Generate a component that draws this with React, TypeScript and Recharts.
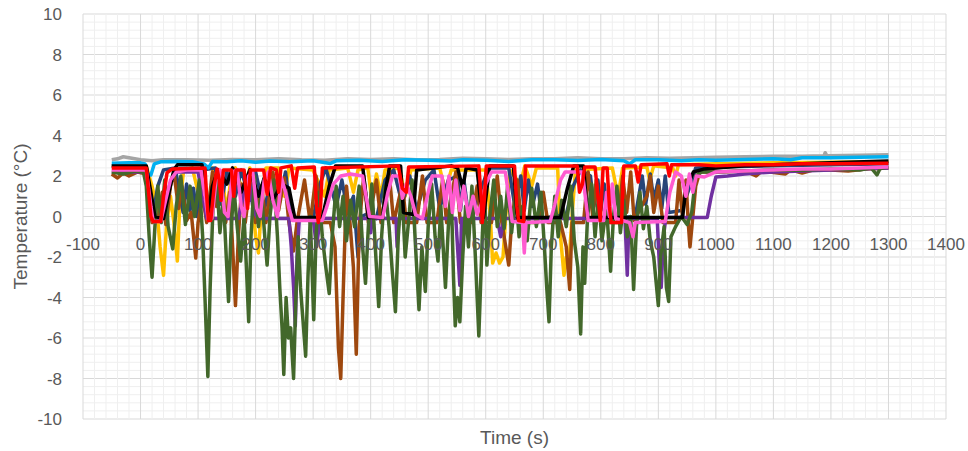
import { LineChart, Line, XAxis, YAxis, CartesianGrid, ReferenceDot } from "recharts";

type Pt = [number, number];

const X_DOMAIN: [number, number] = [-100, 1400];
const xTicks = [-100, 0, 100, 200, 300, 400, 500, 600, 700, 800, 900, 1000, 1100, 1200, 1300, 1400];
const xMinorTicks = Array.from({ length: 76 }, (_, i) => -100 + i * 20);
const yMinorTicks = Array.from({ length: 51 }, (_, i) => Math.round((-10 + i * 0.4) * 10) / 10);

const grayPts: Pt[] = [
  [-50, 2.8], [-40, 2.85], [-30, 2.95], [-20, 2.9], [-10, 2.85], [0, 2.8], [20, 2.75], [40, 2.8], [80, 2.8],
  [120, 2.78], [160, 2.82], [200, 2.8], [240, 2.85], [280, 2.8], [320, 2.78], [360, 2.85], [400, 2.82],
  [440, 2.85], [480, 2.8], [520, 2.82], [560, 2.88], [600, 2.85], [640, 2.82], [680, 2.85], [720, 2.85],
  [760, 2.9], [800, 2.85], [840, 2.85], [880, 2.9], [920, 2.88], [960, 2.9], [1000, 2.92], [1050, 2.95],
  [1100, 2.97], [1150, 2.98], [1188, 3.0], [1190, 3.15], [1193, 3.0], [1250, 3.02], [1300, 3.05],
];

const yellowPts: Pt[] = [
  [-50, 2.5], [10, 2.5], [20, 1.5], [28, 0.5], [34, -1.5], [40, -2.9], [45, -0.5], [52, 1.0], [58, -0.3],
  [64, -2.2], [68, 0.5], [75, 2.3], [90, 2.4], [100, 1.2], [106, 2.4], [125, 2.4], [135, 0.6], [142, 1.8],
  [150, 0.3], [156, 1.6], [165, 2.4], [180, 1.0], [190, 2.4], [200, -1.0], [205, -1.8], [210, 0.5],
  [218, 2.4], [240, 2.4], [250, 1.0], [258, 2.4], [300, 2.3], [320, 1.0], [328, 2.3], [360, 2.4],
  [370, 1.2], [378, 2.3], [395, 2.4], [402, 0.8], [410, 2.1], [418, 1.0], [425, 2.3], [450, 2.4],
  [460, 1.0], [470, 2.3], [520, 2.4], [530, 1.2], [540, 2.3], [600, 2.3], [608, 0.0], [612, -2.3],
  [618, -1.8], [624, -2.3], [630, -2.0], [636, 0.5], [642, 2.3], [660, 1.6], [668, 2.5], [680, 1.5],
  [688, 2.4], [725, 2.4], [730, -1.0], [736, -2.9], [740, -2.0], [744, -2.6], [750, 0.0], [756, 2.3],
  [820, 2.4], [830, 1.0], [838, 2.4], [880, 2.45], [885, 1.8], [892, 2.5], [925, 2.4], [930, 2.0],
  [935, 2.55], [1000, 2.6], [1100, 2.65], [1200, 2.68], [1300, 2.7],
];

const navyPts: Pt[] = [
  [-50, 2.5], [10, 2.45], [16, 1.0], [22, 0.1], [30, 1.5], [40, 2.3], [60, 2.4], [68, 1.2], [74, 0.2],
  [80, 1.6], [86, 0.3], [92, 1.4], [98, 0.0], [106, 2.3], [130, 2.4], [140, 0.6], [150, 2.2], [165, 1.0],
  [175, 2.3], [190, 0.8], [200, 2.2], [215, 0.3], [228, 2.0], [240, 0.5], [252, 2.2], [262, -0.1],
  [300, -0.1], [312, 1.6], [322, 2.4], [340, 0.5], [350, 1.8], [360, 0.2], [370, 1.0], [378, -2.0],
  [384, 0.0], [400, 0.2], [410, -0.1], [425, 1.8], [440, 2.3], [455, 0.6], [468, 2.0], [480, 0.3],
  [495, 1.8], [510, 2.3], [520, 0.4], [535, 1.8], [551, 2.0], [556, 0.3], [562, 1.8], [568, 0.5],
  [574, -0.1], [590, 1.2], [605, 2.4], [640, 2.4], [650, 0.6], [661, 2.0], [667, 0.3], [674, 1.8],
  [681, 0.5], [690, 1.6], [698, -0.1], [740, 0.1], [752, 1.5], [765, 2.3], [782, 2.0], [788, 0.5],
  [795, 1.8], [800, 0.3], [806, 1.6], [812, -0.1], [860, 0.0], [872, 2.0], [878, 0.6], [886, 2.1],
  [892, 0.8], [900, 1.8], [906, 0.4], [912, 2.0], [918, 0.2], [940, 0.3], [955, 1.5], [965, 2.4],
  [1000, 2.45], [1100, 2.5], [1200, 2.55], [1300, 2.6],
];

const brownPts: Pt[] = [
  [-50, 2.1], [-40, 1.9], [-30, 2.15], [-20, 2.0], [-5, 2.2], [10, 2.1], [15, 1.0], [20, -0.3], [30, -0.2],
  [38, 1.2], [44, -0.4], [52, 1.5], [58, 2.2], [66, 0.4], [72, 1.5], [80, -0.2], [88, 0.2], [96, -2.05],
  [100, -0.3], [108, 1.0], [115, -0.3], [125, 2.2], [132, 0.5], [140, 1.8], [148, -0.3], [155, 1.2],
  [160, -1.5], [165, -4.4], [170, -1.0], [176, 1.6], [182, -0.3], [192, 2.0], [200, -0.3], [210, 1.5],
  [218, -0.3], [230, 2.2], [240, 0.3], [250, 1.9], [258, -0.3], [266, -1.7], [272, -0.3], [285, 1.8],
  [295, -0.3], [305, 2.0], [315, -0.3], [330, -0.3], [338, -1.5], [344, -6.5], [348, -8.0], [352, -4.0],
  [358, 1.5], [364, -0.3], [370, -2.5], [375, -6.8], [380, -0.5], [388, 2.0], [396, -0.3], [410, 1.8],
  [418, -0.3], [432, 2.2], [440, -0.3], [455, 1.6], [462, -0.3], [480, -0.3], [490, 2.0], [498, -0.3],
  [515, -0.3], [525, 1.8], [532, -0.3], [548, 2.2], [556, -0.3], [575, -0.3], [585, 1.5], [592, -0.3],
  [610, -0.3], [620, 2.0], [628, -0.3], [640, -2.4], [645, -0.3], [655, 1.8], [662, -0.3], [690, -0.3],
  [700, 1.2], [708, -0.3], [730, -0.3], [740, -1.5], [746, -3.6], [750, -0.3], [770, -0.3], [778, 2.2],
  [786, 0.0], [792, 1.8], [800, -0.3], [830, -0.3], [838, 2.0], [845, 0.2], [852, 2.2], [858, -0.2],
  [880, 1.0], [886, 2.0], [892, 0.2], [900, 1.5], [908, -0.3], [930, -0.3], [936, 1.8], [942, 0.0],
  [948, 1.8], [952, -0.3], [955, -1.5], [960, 0.0], [965, 1.5], [972, 2.2], [1000, 2.2], [1050, 2.25],
  [1070, 2.0], [1080, 2.25], [1121, 2.1], [1130, 2.3], [1150, 2.15], [1170, 2.3], [1200, 2.3],
  [1230, 2.25], [1260, 2.35], [1300, 2.4],
];

const purplePts: Pt[] = [
  [-50, 2.2], [10, 2.2], [18, 1.0], [25, -0.1], [40, -0.1], [50, 1.5], [60, 2.2], [100, 2.2], [108, 1.0],
  [115, -0.1], [170, -0.1], [180, 1.2], [188, 2.0], [196, 0.3], [204, -0.1], [258, -0.1], [262, -1.5],
  [266, -3.5], [269, -5.4], [272, -2.0], [276, -0.1], [300, -0.1], [306, -1.5], [312, -0.1], [397, -0.1],
  [400, -0.8], [403, -0.1], [444, -0.1], [446, -1.5], [449, -0.1], [548, -0.1], [551, -1.5], [555, -3.4],
  [558, -0.1], [620, -0.1], [626, -1.0], [632, -0.1], [842, -0.1], [846, -2.9], [849, -0.1], [898, -0.1],
  [902, -2.5], [905, -3.5], [909, -1.0], [913, -0.05], [985, -0.05], [992, 1.0], [1000, 1.95],
  [1020, 2.0], [1050, 2.1], [1100, 2.2], [1150, 2.25], [1200, 2.3], [1250, 2.35], [1300, 2.4],
];

const greenPts: Pt[] = [
  [-50, 2.2], [-30, 2.1], [-10, 2.25], [5, 2.2], [10, 1.5], [15, -1.0], [20, -3.0], [25, -0.5], [30, 1.5],
  [36, -0.3], [42, 1.8], [48, -0.5], [56, -1.6], [62, 0.5], [70, 2.0], [78, -0.4], [86, 1.5], [94, 0.0],
  [102, 1.8], [108, -1.0], [112, -4.0], [117, -7.9], [121, -3.5], [126, 0.5], [132, 2.0], [138, -0.8],
  [144, 1.0], [149, -2.0], [153, -4.2], [157, -1.0], [162, 1.5], [168, -0.5], [174, -2.2], [180, 0.0],
  [184, -2.5], [188, -5.2], [192, -1.0], [198, 2.0], [205, -0.5], [210, 1.2], [216, -1.0], [220, -2.4],
  [225, 0.0], [232, 1.8], [238, -1.0], [242, -3.5], [246, -5.5], [249, -7.8], [253, -4.0], [257, -6.0],
  [261, -5.5], [266, -8.0], [270, -4.0], [274, -1.0], [278, -3.5], [282, -5.0], [287, -6.9], [291, -3.0],
  [295, 0.0], [298, -2.5], [301, -5.1], [305, -1.0], [310, 1.2], [316, -1.0], [322, -2.5], [328, -3.8],
  [333, -1.0], [340, 1.5], [346, -0.5], [352, 1.0], [358, -1.2], [365, 0.8], [372, -0.5], [380, 1.5],
  [386, -1.5], [391, -3.3], [396, -0.5], [402, 1.6], [408, -1.5], [414, -4.45], [419, -1.0], [425, 1.5],
  [432, -0.5], [437, -2.5], [443, -4.7], [448, -1.0], [454, 1.5], [460, -2.0], [466, -0.2], [472, 1.8],
  [478, -1.5], [484, -4.6], [489, -1.5], [495, -3.7], [500, -0.5], [506, 1.6], [512, -1.0], [517, -2.2],
  [522, 0.5], [530, -3.5], [535, -0.5], [540, 1.2], [544, -3.0], [547, -5.4], [551, -4.0], [555, -5.2],
  [560, -2.0], [565, 0.5], [570, -1.5], [576, 1.5], [582, -2.0], [588, -5.9], [594, -1.0], [598, 1.5],
  [602, -2.4], [607, 0.0], [614, 1.8], [620, -0.5], [626, 1.0], [632, -0.6], [638, 1.5], [645, -0.8],
  [652, 1.2], [658, -1.0], [664, 0.5], [672, -1.2], [680, 1.4], [688, -0.5], [696, 1.2], [702, -1.5],
  [706, -3.5], [710, -5.2], [714, -1.5], [720, 1.0], [726, -1.0], [732, 0.8], [740, -0.5], [748, 1.5],
  [754, -1.2], [760, -2.5], [765, -5.8], [769, -1.5], [772, -3.3], [777, 0.0], [784, 1.6], [790, -1.0],
  [796, 1.0], [802, -1.2], [810, 0.5], [817, -2.7], [822, 0.0], [828, 1.5], [834, -0.8], [840, 0.8],
  [846, -1.0], [852, 0.0], [857, -3.6], [862, -0.5], [868, 1.2], [874, -0.6], [880, 0.5], [886, -1.2],
  [892, -2.0], [896, -3.2], [900, -4.4], [904, -2.0], [910, -0.5], [914, -3.5], [918, -4.2], [922, -1.0],
  [930, -0.5], [940, 0.0], [950, -0.4], [958, 0.2], [965, 2.0], [975, 2.2], [1000, 2.2], [1050, 2.25],
  [1100, 2.3], [1150, 2.28], [1200, 2.35], [1250, 2.3], [1270, 2.4], [1280, 2.05], [1285, 2.35], [1300, 2.45],
];

const skyPts: Pt[] = [
  [-50, 2.63], [-20, 2.65], [0, 2.65], [8, 2.6], [12, 2.1], [18, 2.05], [24, 2.6], [35, 2.7], [60, 2.72],
  [90, 2.7], [110, 2.6], [118, 2.4], [125, 2.72], [150, 2.7], [175, 2.75], [200, 2.68], [225, 2.74],
  [260, 2.7], [300, 2.75], [330, 2.62], [340, 2.75], [380, 2.78], [420, 2.72], [460, 2.8], [500, 2.78],
  [540, 2.74], [560, 2.8], [600, 2.78], [640, 2.72], [680, 2.8], [720, 2.8], [760, 2.76], [800, 2.82],
  [840, 2.75], [850, 2.6], [860, 2.8], [900, 2.8], [940, 2.75], [970, 2.8], [1000, 2.78], [1050, 2.82],
  [1100, 2.85], [1130, 2.8], [1150, 2.9], [1200, 2.9], [1250, 2.93], [1300, 2.95],
];

const blackPts: Pt[] = [
  [-50, 2.5], [10, 2.5], [18, 1.2], [25, 0.0], [40, -0.1], [48, 1.0], [58, 2.3], [64, 2.55], [107, 2.55],
  [112, 1.0], [118, 0.2], [125, 1.5], [135, 2.3], [150, 1.6], [160, 2.4], [175, 1.2], [190, 2.3],
  [205, 1.0], [215, 1.9], [230, 0.8], [245, 1.6], [258, 1.4], [268, -0.05], [316, -0.05], [328, 1.5],
  [339, 2.5], [386, 2.5], [392, 1.0], [396, -0.05], [421, -0.05], [427, 1.5], [433, 2.5], [452, 2.5],
  [457, 0.2], [474, 0.1], [480, 2.3], [540, 2.5], [551, 2.4], [560, 1.4], [566, 2.4], [585, 2.3],
  [592, 0.5], [596, -0.05], [607, 2.5], [648, 2.5], [655, -0.05], [730, -0.05], [742, 1.4], [753, 2.5],
  [770, 2.5], [777, -0.05], [942, -0.05], [948, 1.4], [961, 2.2], [980, 2.35], [1050, 2.5],
  [1100, 2.55], [1200, 2.65], [1300, 2.74],
];

const pinkPts: Pt[] = [
  [-50, 2.3], [10, 2.3], [18, 0.5], [22, -0.25], [35, -0.25], [42, 0.6], [52, 1.8], [62, 2.2], [80, 2.3],
  [105, 2.3], [112, 1.0], [118, -0.2], [124, -0.1], [132, 2.0], [138, 2.3], [146, 0.2], [152, 0.0],
  [160, 2.2], [168, 2.3], [175, 0.5], [180, 0.0], [188, 2.0], [195, 2.2], [202, 0.4], [208, 0.0],
  [215, 1.8], [222, 2.2], [230, 0.8], [238, 0.0], [245, 1.9], [252, 1.2], [258, 0.4], [264, -0.2],
  [316, -0.2], [325, 0.6], [335, 1.6], [348, 2.0], [365, 2.1], [386, 2.0], [392, 1.0], [398, 0.0],
  [421, -0.05], [430, 1.2], [438, 2.0], [450, 2.0], [455, 0.9], [462, 1.6], [470, 1.0], [478, 0.1],
  [490, -0.1], [500, 1.2], [507, 2.0], [524, 2.0], [530, 0.5], [536, 2.0], [542, 0.2], [548, 1.8],
  [555, 0.3], [562, 1.5], [570, 0.0], [578, 1.0], [585, 0.1], [592, 0.6], [600, 1.6], [610, 2.2],
  [634, 2.2], [640, 1.0], [646, -0.25], [664, -0.3], [667, -1.8], [670, -0.3], [712, -0.25], [720, 0.6],
  [730, 1.8], [738, 2.2], [768, 2.2], [773, 1.0], [778, -0.2], [805, -0.2], [810, 1.2], [815, 0.0],
  [820, 1.6], [826, -0.1], [850, -0.3], [856, -1.0], [860, -0.3], [912, -0.25], [920, 1.2], [930, 2.2],
  [940, 2.0], [948, 1.0], [954, 2.1], [960, 1.2], [966, 2.0], [980, 1.95], [1000, 2.2], [1050, 2.25],
  [1100, 2.3], [1150, 2.35], [1200, 2.35], [1250, 2.4], [1300, 2.45],
];

const redPts: Pt[] = [
  [-50, 2.4], [10, 2.4], [14, 1.2], [18, 0.0], [22, -0.25], [35, -0.25], [40, 1.0], [46, 2.15], [55, 2.35],
  [112, 2.4], [115, 1.0], [118, -0.2], [122, -0.2], [128, 1.5], [133, 2.35], [137, 1.8], [140, 0.8],
  [144, 2.3], [158, 2.3], [162, 1.0], [166, 2.3], [180, 2.3], [186, 0.4], [191, 2.3], [214, 2.3],
  [220, 1.1], [226, 2.4], [236, 2.3], [240, 1.2], [244, 2.4], [262, 2.5], [268, 1.4], [273, 2.4],
  [302, 2.45], [306, 0.5], [309, -0.3], [313, 0.5], [316, 2.4], [448, 2.5], [455, 1.4], [462, 1.2],
  [466, 2.45], [588, 2.5], [592, 1.0], [594, -0.3], [598, 1.0], [601, 2.5], [650, 2.5], [654, 0.5],
  [657, -0.2], [666, -0.25], [669, 2.5], [759, 2.5], [763, 1.2], [768, 1.6], [772, 2.45], [790, 2.45],
  [795, 1.0], [799, -0.2], [804, 2.4], [811, 2.4], [815, 0.5], [818, -0.3], [836, -0.3], [840, 2.5],
  [860, 2.5], [865, 1.7], [870, 2.55], [915, 2.6], [919, 2.0], [923, 2.55], [970, 2.55], [1000, 2.5],
  [1050, 2.55], [1100, 2.55], [1150, 2.6], [1200, 2.6], [1250, 2.62], [1300, 2.63],
];

const series: { name: string; color: string; pts: Pt[] }[] = [
  { name: "gray", color: "#A5A5A5", pts: grayPts },
  { name: "yellow", color: "#FFC000", pts: yellowPts },
  { name: "navy", color: "#264478", pts: navyPts },
  { name: "brown", color: "#9E480E", pts: brownPts },
  { name: "purple", color: "#7030A0", pts: purplePts },
  { name: "green", color: "#43682B", pts: greenPts },
  { name: "sky", color: "#00B0F0", pts: skyPts },
  { name: "black", color: "#000000", pts: blackPts },
  { name: "pink", color: "#FF5BD0", pts: pinkPts },
  { name: "red", color: "#FF0000", pts: redPts },
];

const FONT = "'Liberation Sans', Arial, sans-serif";
const TEXT = "#595959";

// every 5th grid line is a major one
const gridLine = (props: any) => {
  const major = props.index % 5 === 0;
  return (
    <line
      key={`${props.x1}-${props.y1}-${props.x2}-${props.y2}`}
      x1={props.x1}
      y1={props.y1}
      x2={props.x2}
      y2={props.y2}
      stroke={major ? "#D9D9D9" : "#EFEFEF"}
      strokeWidth={1}
    />
  );
};

// one vertical grid line every 20 s across the plot area
const verticalGen = ({ offset }: any) =>
  xMinorTicks.map(
    (v) => offset.left + ((v - X_DOMAIN[0]) / (X_DOMAIN[1] - X_DOMAIN[0])) * offset.width
  );

export default function App() {
  return (
    <div style={{ position: "absolute", left: 0, top: 0, background: "#fff" }}>
      <LineChart width={968} height={451} margin={{ top: 14, right: 22, bottom: 0, left: 0 }}>
        <CartesianGrid horizontal={gridLine} vertical={gridLine} verticalCoordinatesGenerator={verticalGen} />
        <XAxis
          type="number"
          dataKey="t"
          domain={X_DOMAIN}
          ticks={xMinorTicks}
          interval={0}
          tick={false}
          tickLine={false}
          axisLine={false}
          height={32}
          label={{
            content: (p: any) => (
              <text
                x={p.viewBox.x + p.viewBox.width / 2}
                y={p.viewBox.y + 18}
                textAnchor="middle"
                dominantBaseline="central"
                fill={TEXT}
                fontSize={19}
                fontFamily={FONT}
              >
                Time (s)
              </text>
            ),
          }}
        />
        <YAxis
          type="number"
          domain={[-10, 10]}
          ticks={yMinorTicks}
          interval={0}
          width={83}
          axisLine={false}
          tickLine={false}
          tickSize={0}
          tick={(p: any) =>
            Math.abs(p.payload.value % 2) < 1e-6 ? (
              <text
                x={p.x - 19}
                y={p.y}
                dy="0.36em"
                textAnchor="end"
                fill={TEXT}
                fontSize={17}
                fontFamily={FONT}
              >
                {p.payload.value}
              </text>
            ) : (
              <g />
            )
          }
          label={{
            content: (p: any) => {
              const cx = p.viewBox.x + 20;
              const cy = p.viewBox.y + p.viewBox.height / 2;
              return (
                <text
                  x={cx}
                  y={cy}
                  transform={`rotate(-90 ${cx} ${cy})`}
                  textAnchor="middle"
                  dominantBaseline="central"
                  fill={TEXT}
                  fontSize={19}
                  fontFamily={FONT}
                >
                  Temperature (°C)
                </text>
              );
            },
          }}
        />
        {xTicks.map((v) => (
          <ReferenceDot
            key={v}
            x={v}
            y={0}
            r={0}
            fill="none"
            stroke="none"
            label={{ value: String(v), position: "bottom", offset: 21, fill: TEXT, fontSize: 17, fontFamily: FONT }}
          />
        ))}
        {series.map((s) => (
          <Line
            key={s.name}
            data={s.pts.map(([t, v]) => ({ t, v }))}
            dataKey="v"
            type="linear"
            stroke={s.color}
            strokeWidth={3.5}
            dot={false}
            activeDot={false}
            isAnimationActive={false}
            strokeLinejoin="round"
          />
        ))}
      </LineChart>
    </div>
  );
}
